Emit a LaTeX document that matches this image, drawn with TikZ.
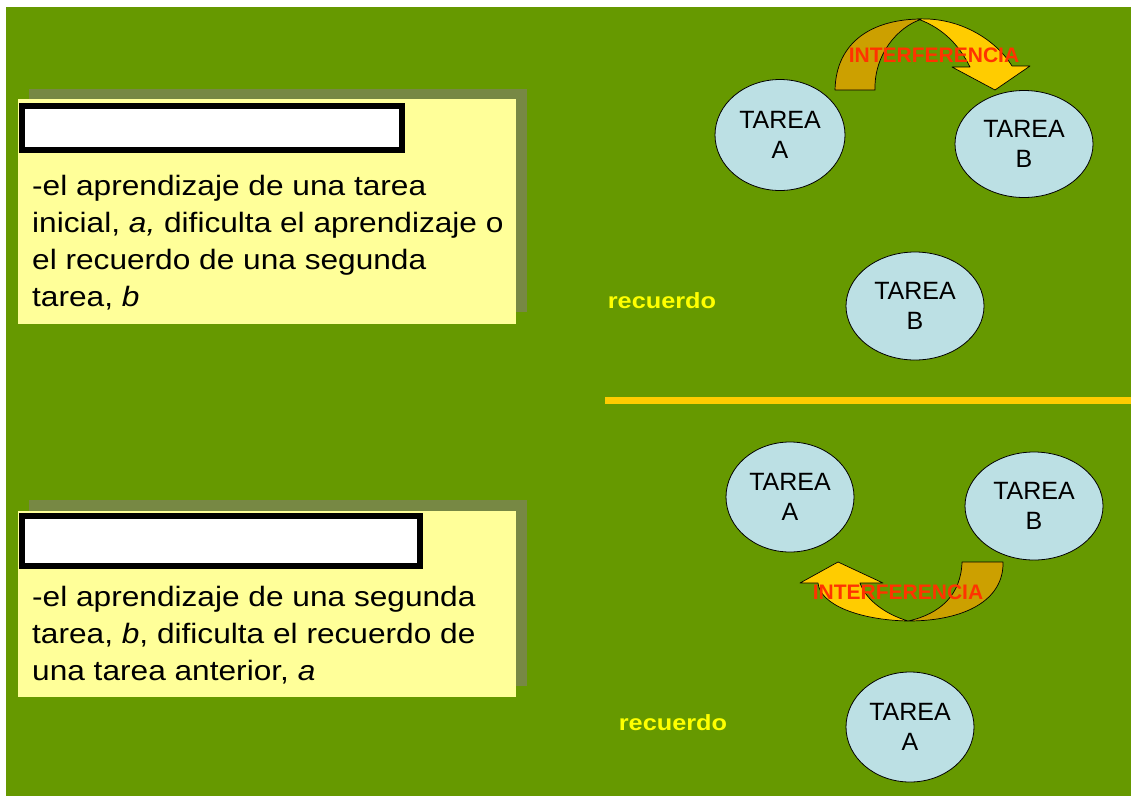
\documentclass[tikz,border=0pt]{standalone}
\usepackage{fontspec}
\setmainfont{Liberation Sans}
\newfontfamily\widefont[FakeStretch=1.13]{Liberation Sans}
\newfontfamily\widerfont[FakeStretch=1.15]{Liberation Sans}
\usetikzlibrary{shapes.geometric}
\definecolor{bg}{RGB}{102,153,0}
\definecolor{shadowc}{RGB}{119,136,68}
\definecolor{paleyellow}{RGB}{255,255,153}
\definecolor{tareafill}{RGB}{188,224,228}
\definecolor{gold}{RGB}{255,204,0}
\definecolor{darkgold}{RGB}{204,160,0}
\definecolor{interf}{RGB}{255,51,0}
\definecolor{recyellow}{RGB}{255,255,0}
\begin{document}
\begin{tikzpicture}[x=1pt,y=-1pt,
  tarea/.style={ellipse, draw=black, line width=0.8pt, fill=tareafill, inner sep=0pt,
    align=center, font=\fontsize{25}{30}\selectfont},
  bodytext/.style={anchor=base west, inner sep=0pt, font=\widefont\fontsize{28}{34}\selectfont},
  recu/.style={inner sep=0pt, text=recyellow, font=\widerfont\bfseries\fontsize{22}{26}\selectfont},
  interftext/.style={inner sep=0pt, text=interf, font=\bfseries\fontsize{21}{25}\selectfont},
  backband/.style={fill=darkgold, draw=black, line width=0.7pt, line join=round},
  frontband/.style={fill=gold, draw=black, line width=0.7pt, line join=round},
  titlebox/.style={fill=white, draw=black, line width=6pt},
]
\useasboundingbox (0,0) rectangle (1131,796);
\fill[white] (0,0) rectangle (1131,796);
\fill[bg] (6,7) rectangle (1131,796);

% ---------- top-left box ----------
\fill[shadowc] (29,89) rectangle (527,312);
\fill[paleyellow] (18,99) rectangle (516,324);
\draw[titlebox] (22,106) rectangle (402,150);
\node[bodytext] (t1) at (32,195) {-el aprendizaje de una tarea};
\node[bodytext] (t2) at (32,232.3) {inicial, \textit{a,} dificulta el aprendizaje o};
\node[bodytext] (t3) at (32,269.6) {el recuerdo de una segunda};
\node[bodytext] (t4) at (32,306.9) {tarea, \textit{b}};

% ---------- bottom-left box ----------
\fill[shadowc] (29,500) rectangle (527,686);
\fill[paleyellow] (18,511) rectangle (516,697);
\draw[titlebox] (22,516) rectangle (420,566);
\node[bodytext] (u1) at (32,606) {-el aprendizaje de una segunda};
\node[bodytext] (u2) at (32,643) {tarea, \textit{b}, dificulta el recuerdo de};
\node[bodytext] (u3) at (32,680) {una tarea anterior, \textit{a}};

% ---------- divider ----------
\fill[gold] (605,397) rectangle (1131,404);

% ---------- top right ----------
\node[tarea, minimum width=130pt, minimum height=111pt] (ta1) at (780,135) {TAREA\\A};
\node[tarea, minimum width=138pt, minimum height=107pt] (tb1) at (1024,144) {TAREA\\B};
\node[tarea, minimum width=138pt, minimum height=108pt] (tb2) at (915,306) {TAREA\\B};
\node[recu] (rec1) at (662,301) {recuerdo};

% curved down arrow
\draw[backband] (835,90) .. controls (836,42) and (872,19) .. (922,19)
  .. controls (897,27) and (874,55) .. (875,90) -- cycle;
\draw[frontband] (918,19) .. controls (960,17) and (996,40) .. (1012,66)
  -- (1030,66) -- (995,90) -- (952,67) -- (970,67)
  .. controls (960,47) and (945,29) .. (918,19) -- cycle;
\node[interftext] (if1) at (934,55) {INTERFERENCIA};

% ---------- bottom right ----------
\node[tarea, minimum width=128pt, minimum height=110pt] (ta2) at (790,497) {TAREA\\A};
\node[tarea, minimum width=138pt, minimum height=108pt] (tb3) at (1034,506) {TAREA\\B};
\node[tarea, minimum width=128pt, minimum height=110pt] (ta3) at (910,727) {TAREA\\A};
\node[recu] (rec2) at (673,723) {recuerdo};

% curved up arrow
\draw[backband] (962,562) -- (1003,562) .. controls (1004,600) and (965,621) .. (908,621)
  .. controls (940,614) and (961,595) .. (962,562) -- cycle;
\draw[frontband] (908,621) .. controls (860,620) and (820,605) .. (818,583)
  -- (800,583) -- (838,562) -- (883,583) -- (860,583)
  .. controls (866,600) and (885,614) .. (908,621) -- cycle;
\node[interftext] (if2) at (898,592) {INTERFERENCIA};
\end{tikzpicture}
\end{document}
